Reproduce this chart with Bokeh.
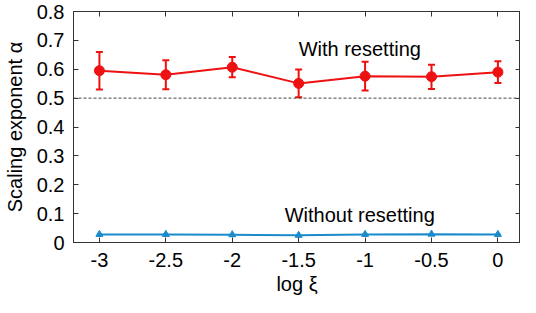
from bokeh.plotting import figure
from bokeh.models import (ColumnDataSource, Whisker, Span, Label, LinearAxis,
                          FixedTicker, CustomJSTickFormatter, Range1d)
from bokeh.embed import file_html
from bokeh.resources import INLINE

log_xi = [-3, -2.5, -2, -1.5, -1, -0.5, 0]
with_reset = [0.595, 0.581, 0.607, 0.551, 0.576, 0.574, 0.590]
with_err = [0.065, 0.050, 0.035, 0.048, 0.050, 0.042, 0.038]
without_reset = [0.028, 0.028, 0.027, 0.025, 0.028, 0.029, 0.028]
without_err = [0.003, 0.002, 0.002, 0.002, 0.002, 0.002, 0.002]

x_ticks = [-3, -2.5, -2, -1.5, -1, -0.5, 0]
x_labels = ["-3", "-2.5", "-2", "-1.5", "-1", "-0.5", "0"]
y_ticks = [0, 0.1, 0.2, 0.3, 0.4, 0.5, 0.6, 0.7, 0.8]
y_labels = ["0", "0.1", "0.2", "0.3", "0.4", "0.5", "0.6", "0.7", "0.8"]

RED = "#ee1111"
BLUE = "#1b8bcb"
FONT = "Liberation Sans"

p = figure(width=520, height=297, output_backend="svg", toolbar_location=None,
           x_range=Range1d(-3.195, 0.17), y_range=Range1d(0, 0.8),
           min_border_left=73, min_border_right=0, min_border_top=11, min_border_bottom=40)
p.grid.visible = False
p.outline_line_color = "#333333"
p.background_fill_color = "white"

code = "const i = tv.findIndex(t => Math.abs(t - tick) < 1e-9); return i >= 0 ? lab[i] : '';"
xfmt = CustomJSTickFormatter(args=dict(tv=x_ticks, lab=x_labels), code=code)
yfmt = CustomJSTickFormatter(args=dict(tv=y_ticks, lab=y_labels), code=code)
nofmt = CustomJSTickFormatter(code="return '';")

def style(ax, ticks, fmt, standoff):
    ax.ticker = FixedTicker(ticks=ticks)
    ax.formatter = fmt
    ax.major_tick_in = 5
    ax.major_tick_out = 0
    ax.minor_tick_in = 0
    ax.minor_tick_out = 0
    ax.minor_tick_line_color = None
    ax.axis_line_color = "#333333"
    ax.major_tick_line_color = "#333333"
    ax.major_label_text_font = FONT
    ax.major_label_text_color = "black"
    ax.major_label_text_font_size = "20px"
    ax.major_label_standoff = standoff
    ax.axis_label_text_font = FONT
    ax.axis_label_text_font_style = "normal"
    ax.axis_label_text_font_size = "20px"
    ax.axis_label_text_color = "black"

style(p.xaxis[0], x_ticks, xfmt, 10)
style(p.yaxis[0], y_ticks, yfmt, 9)
p.xaxis[0].axis_label = "log ξ"
p.xaxis[0].axis_label_standoff = 3
p.yaxis[0].axis_label = "Scaling exponent α"
p.yaxis[0].axis_label_standoff = 8

top = LinearAxis()
style(top, x_ticks, nofmt, 0)
p.add_layout(top, "above")
right = LinearAxis()
style(right, y_ticks, nofmt, 0)
p.add_layout(right, "right")

p.add_layout(Span(location=0.5, dimension="width", line_color="#444444",
                  line_dash="3 2", line_width=1))

src_w = ColumnDataSource(dict(x=log_xi, y=with_reset,
                              lo=[v - e for v, e in zip(with_reset, with_err)],
                              hi=[v + e for v, e in zip(with_reset, with_err)]))
src_o = ColumnDataSource(dict(x=log_xi, y=without_reset,
                              lo=[v - e for v, e in zip(without_reset, without_err)],
                              hi=[v + e for v, e in zip(without_reset, without_err)]))

wk = Whisker(base="x", lower="lo", upper="hi", source=src_w, line_color=RED, line_width=2)
wk.upper_head.size = 7
wk.lower_head.size = 7
wk.upper_head.line_color = RED
wk.lower_head.line_color = RED
wk.upper_head.line_width = 2
wk.lower_head.line_width = 2
p.add_layout(wk)
p.line("x", "y", source=src_w, line_color=RED, line_width=2)
p.scatter("x", "y", source=src_w, size=10, color=RED)

wk2 = Whisker(base="x", lower="lo", upper="hi", source=src_o, line_color=BLUE, line_width=1.5)
wk2.upper_head.size = 5
wk2.lower_head.size = 5
wk2.upper_head.line_color = BLUE
wk2.lower_head.line_color = BLUE
p.add_layout(wk2)
p.line("x", "y", source=src_o, line_color=BLUE, line_width=2)
p.scatter("x", "y", source=src_o, size=7, marker="triangle", color=BLUE)

p.add_layout(Label(x=-1.04, y=0.669, text="With resetting", text_font=FONT,
                   text_font_size="20px", text_align="center", text_baseline="middle",
                   text_color="black"))
p.add_layout(Label(x=-1.04, y=0.094, text="Without resetting", text_font=FONT,
                   text_font_size="20px", text_align="center", text_baseline="middle",
                   text_color="black"))

open("out.html", "w").write(file_html(p, INLINE))
